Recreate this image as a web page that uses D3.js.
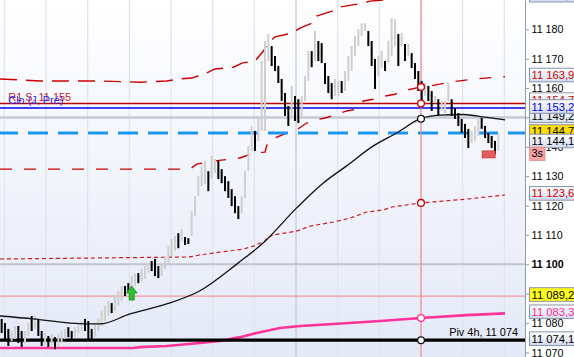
<!DOCTYPE html>
<html><head><meta charset="utf-8">
<script src="https://cdn.jsdelivr.net/npm/d3@7"></script>
<style>body{margin:0;background:#fff}svg{display:block;font-family:"Liberation Sans",Arial,sans-serif}</style>
</head><body><svg id="c" width="574" height="357"></svg>
<script>
// ---------- DATA ----------
const barOpen = [11081.4,11080.0,11078.0,11073.9,11074.6,11079.0,11077.3,11073.2,11075.6,11082.4,
11078.0,11081.4,11077.3,11072.5,11075.6,11072.5,11075.2,11072.2,11073.2,11074.6,
11078.6,11077.3,11075.2,11076.6,11077.3,11081.4,11080.7,11078.0,11075.2,11077.3,
11079.0,11080.7,11082.4,11086.8,11084.1,11085.8,11087.5,11092.6,11093.6,11091.6,
11092.6,11097.0,11094.3,11095.0,11097.0,11101.1,11101.8,11099.4,11096.0,11098.4,
11100.4,11102.8,11104.5,11110.6,11107.9,11109.3,11108.9,11109.6,11116.4,11123.2,
11126.6,11127.3,11131.7,11129.0,11131.1,11135.2,11132.4,11130.0,11128.3,11125.6,
11123.2,11119.8,11117.4,11122.6,11131.7,11138.6,11145.4,11142.0,11145.4,11145.4,
11169.2,11174.3,11170.9,11167.5,11163.1,11158.3,11153.9,11149.5,11157.3,11156.2,
11149.5,11155.6,11162.4,11172.6,11169.2,11176.0,11175.3,11168.5,11164.1,11161.7,
11157.3,11157.3,11162.4,11159.0,11162.4,11165.8,11170.9,11174.3,11177.7,11179.4,
11179.4,11176.0,11169.9,11164.1,11166.8,11169.2,11168.5,11170.9,11174.3,11178.4,
11174.3,11175.0,11170.9,11171.9,11168.5,11165.8,11162.4,11157.3,11160.7,11159.0,
11154.9,11156.2,11152.2,11151.5,11155.6,11156.2,11153.2,11151.5,11149.5,11147.8,
11146.1,11141.3,11142.0,11143.7,11149.8,11147.1,11144.7,11143.7,11142.0,11138.6];
const barClose = [11076.6,11074.6,11072.2,11077.3,11079.0,11073.2,11071.9,11077.3,11080.0,11077.3,
11082.4,11075.6,11072.2,11076.6,11071.9,11076.3,11071.1,11076.3,11077.3,11078.0,
11075.2,11074.6,11078.6,11080.0,11080.7,11077.3,11074.6,11073.9,11079.7,11081.4,
11084.1,11085.8,11087.5,11083.4,11089.2,11090.9,11092.6,11089.2,11090.9,11096.0,
11097.0,11093.6,11098.4,11099.4,11100.4,11097.7,11096.0,11095.3,11100.4,11102.8,
11106.2,11108.6,11109.6,11105.5,11112.0,11106.6,11106.9,11118.1,11123.2,11130.0,
11133.5,11135.2,11124.9,11136.9,11135.8,11129.0,11127.6,11124.9,11122.6,11119.8,
11117.4,11115.4,11123.2,11131.7,11140.3,11147.1,11138.6,11150.5,11169.2,11176.0,
11178.4,11167.5,11165.8,11161.7,11155.6,11150.5,11147.1,11160.7,11148.8,11148.1,
11157.3,11164.1,11172.6,11167.1,11179.4,11169.2,11168.5,11161.4,11158.3,11156.2,
11163.1,11162.4,11158.3,11165.8,11170.9,11174.3,11177.7,11180.1,11182.1,11182.1,
11174.3,11167.5,11159.7,11170.9,11172.6,11165.8,11176.0,11183.8,11183.5,11167.5,
11178.7,11169.2,11175.0,11166.8,11163.1,11159.0,11155.6,11161.7,11155.6,11152.2,
11157.3,11150.5,11155.6,11155.6,11161.7,11150.5,11149.5,11147.1,11144.7,11143.0,
11139.6,11145.4,11147.1,11149.5,11146.1,11143.0,11141.3,11139.6,11137.5,11144.1];

const maIdx = [0,10,21,30,39,50,60,71.4,79,89,97,104,112,119,126,132,139,145.5,151.5];
const maVal = [11082.4,11081.4,11080.0,11079.7,11083.1,11086.5,11091.0,11100.4,11107.3,11119.2,11127.7,11133.5,11140.3,11144.7,11149.5,11150.8,11151.0,11150.1,11149.2];

const upperIdx = [0,12,30,42,50,54,57.6,59.4,62,64.5,70,72.6,76.5,79,80.4,82.5,87.6,90,93.6,95,99.6,102,107.4,111,120,151.5];
const upperVal = [11163.1,11162.4,11162.4,11162.0,11162.4,11163.1,11163.4,11164.1,11165.1,11166.5,11167.1,11168.5,11169.2,11172.6,11175.3,11177.4,11178.7,11180.4,11182.1,11184.5,11186.2,11187.6,11188.6,11189.6,11190.4,11191.1];

const midIdx = [0,57,59,64.5,72,76,79.5,80.4,82.5,86,88.5,92,94.5,97.5,100.5,104,107.4,109,112,115.5,118.5,122,126.3,129,135.6,142.5,151.5];
const midVal = [11132.4,11132.4,11134.1,11135.2,11136.2,11137.9,11138.2,11142.0,11143.0,11144.7,11145.4,11148.1,11149.1,11149.8,11150.8,11152.2,11152.9,11155.6,11156.2,11157.3,11157.9,11159.3,11160.4,11160.7,11162.1,11163.1,11163.9];

const lowIdx = [0,57,60,73,76,79.5,80,82,89,93,100,105,110,115,117.6,126.3,140,151.5];
const lowVal = [11101.8,11102.5,11103.2,11105.2,11106.2,11107.9,11108.9,11110.0,11111.3,11113.0,11114.4,11115.7,11117.8,11118.5,11119.5,11120.9,11122.2,11123.6];

const pinkIdx = [0,40,42,50,60,66,72,78,84,90,100,114,126.3,140,151.5];
const pinkVal = [11071.5,11071.5,11071.8,11072.2,11073.2,11073.9,11075.2,11076.9,11078.3,11079.0,11079.7,11080.7,11081.7,11082.7,11083.3];

const pivotLevel = 11074.17, r1Level = 11154.7, cloLevel = 11153.2, dashLevel = 11144.7, salmonLevel = 11089.2;
const roundLevels = [11150, 11100];
const axisTicks = [11070,11080,11090,11100,11110,11120,11130,11140,11150,11160,11170,11180];
const timeGrid = [1.3,13.8,26.3,38.8,51.3,63.8,76.3,88.8,101.3,113.8,126.3,138.8,151.3];
const cursorIdx = 126.3;
const buySignal = {idx:39.5, price:11092.6};
const sellSignal = {idx:146.6, price:11138.6};

const labelValues = [11191.1,11163.93,11154.70,11149.20,11153.20,11144.70,11144.19,11123.63,11089.20,11083.33,11074.17];
const labelTexts  = ["11 191,10","11 163,93","11 154,70","11 149,20","11 153,20","11 144,70","11 144,19","11 123,63","11 089,20","11 083,33","11 074,17"];

// ---------- DRAW ----------
const W = 574, H = 357, PW = 525;
const svg = d3.select("#c");
const y = d3.scaleLinear().domain([11100, 11180]).range([264.3, 29.3]);
y.domain([y.invert(H), y.invert(0)]).range([H, 0]);
const x = d3.scaleLinear().domain([0, 150]).range([0, 500]);

const defs = svg.append("defs");
const bg = defs.append("linearGradient").attr("id","bg").attr("x1",0).attr("y1",0).attr("x2",0).attr("y2",1);
bg.append("stop").attr("offset","0%").attr("stop-color","#ffffff");
bg.append("stop").attr("offset","100%").attr("stop-color","#e4e9f8");
const lb = defs.append("linearGradient").attr("id","lb").attr("x1",0).attr("y1",0).attr("x2",0).attr("y2",1);
lb.append("stop").attr("offset","0%").attr("stop-color","#ffffff");
lb.append("stop").attr("offset","100%").attr("stop-color","#d2dcee");
defs.append("clipPath").attr("id","clip").append("rect").attr("width",PW).attr("height",H);

svg.append("rect").attr("width",W).attr("height",H).attr("fill","#fff");
svg.append("rect").attr("width",PW).attr("height",H).attr("fill","url(#bg)");
const plot = svg.append("g").attr("clip-path","url(#clip)");

// vertical grid
plot.selectAll(".vg").data(timeGrid).join("line")
  .attr("x1",d=>x(d)).attr("x2",d=>x(d)).attr("y1",0).attr("y2",H)
  .attr("stroke",(d,i)=> i===7 ? "#c3c8d6" : "#dfe3ee").attr("stroke-width",1.2);

// round levels
plot.selectAll(".rl").data(roundLevels).join("line")
  .attr("x1",0).attr("x2",PW).attr("y1",d=>y(d)).attr("y2",d=>y(d))
  .attr("stroke",(d,i)=> i===0 ? "#c6cad8" : "#c0c4d3").attr("stroke-width",(d,i)=> i===0 ? 2.6 : 2);

// salmon level
plot.append("line").attr("x1",0).attr("x2",PW).attr("y1",y(salmonLevel)).attr("y2",y(salmonLevel))
  .attr("stroke","#f29a9a").attr("stroke-width",1.2);

const mk = (idx, val) => idx.map((d,i)=>[d,val[i]]);
const line = d3.line().x(d=>x(d[0])).y(d=>y(d[1]));
const smooth = d3.line().x(d=>x(d[0])).y(d=>y(d[1])).curve(d3.curveMonotoneX);

// bands
plot.append("path").attr("d",line(mk(upperIdx,upperVal))).attr("fill","none")
  .attr("stroke","#cc0000").attr("stroke-width",1.4).attr("stroke-dasharray","17,9");
plot.append("path").attr("d",line(mk(midIdx,midVal))).attr("fill","none")
  .attr("stroke","#cc0000").attr("stroke-width",1.4).attr("stroke-dasharray","12,12");
plot.append("path").attr("d",line(mk(lowIdx,lowVal))).attr("fill","none")
  .attr("stroke","#d41a1a").attr("stroke-width",1.2).attr("stroke-dasharray","4,3");

// dashed blue level
plot.append("line").attr("x1",0).attr("x2",PW).attr("y1",y(dashLevel)).attr("y2",y(dashLevel))
  .attr("stroke","#1a98ee").attr("stroke-width",3).attr("stroke-dasharray","20,10").attr("stroke-dashoffset",2);

// R1 & Clo
plot.append("line").attr("x1",0).attr("x2",PW).attr("y1",y(r1Level)).attr("y2",y(r1Level))
  .attr("stroke","#bb0000").attr("stroke-width",1.5);
plot.append("line").attr("x1",0).attr("x2",PW).attr("y1",y(cloLevel)).attr("y2",y(cloLevel))
  .attr("stroke","#0000ee").attr("stroke-width",1.5);

// pink line
plot.append("path").attr("d",line(mk(pinkIdx,pinkVal))).attr("fill","none")
  .attr("stroke","#ff3399").attr("stroke-width",2.6);

// pivot
plot.append("line").attr("x1",0).attr("x2",PW).attr("y1",y(pivotLevel)).attr("y2",y(pivotLevel))
  .attr("stroke","#000").attr("stroke-width",3.2);

// cursor line
plot.append("line").attr("x1",x(cursorIdx)).attr("x2",x(cursorIdx)).attr("y1",0).attr("y2",H)
  .attr("stroke","#f28a8a").attr("stroke-width",1.2);

// bars
const bars = barOpen.map((o,i)=>({i, o, c:barClose[i]}));
plot.selectAll(".bar").data(bars).join("rect")
  .attr("x",d=>x(d.i+0.5)-1).attr("width",2)
  .attr("y",d=>y(Math.max(d.o,d.c)))
  .attr("height",d=>Math.max(1.5, y(Math.min(d.o,d.c))-y(Math.max(d.o,d.c))))
  .attr("fill",d=> d.c>=d.o ? "#cfcfcf" : "#000");

// MA
plot.append("path").attr("d",smooth(mk(maIdx,maVal))).attr("fill","none")
  .attr("stroke","#111").attr("stroke-width",1.3);

// signals
{
  const cx = x(buySignal.idx), t = y(buySignal.price);
  plot.append("path").attr("d",`M${cx},${t} L${cx+5.5},${t+7} L${cx+2.5},${t+7} L${cx+2.5},${t+14} L${cx-2.5},${t+14} L${cx-2.5},${t+7} L${cx-5.5},${t+7} Z`)
    .attr("fill","#2dc02d").attr("stroke","#178a17").attr("stroke-width",0.8);
  const sx = x(sellSignal.idx), st = y(sellSignal.price);
  plot.append("rect").attr("x",sx-6.5).attr("y",st).attr("width",13).attr("height",7)
    .attr("fill","#e65c5c").attr("stroke","#c23a3a").attr("stroke-width",0.8);
}

// texts
plot.append("text").attr("x",8.3).attr("y",y(r1Level)-3).attr("fill","#cc2222")
  .attr("font-size",10.9).text("R1 S, 11 155");
plot.append("text").attr("x",8.3).attr("y",y(cloLevel)-3.6).attr("fill","#2a2af0")
  .attr("font-size",10.9).text("Clo (J, Pré)");
plot.append("text").attr("x",518).attr("y",y(pivotLevel)-3.8).attr("text-anchor","end")
  .attr("fill","#000").attr("font-size",10.9).text("Piv 4h, 11 074");

// cursor circles
function interp(idx, val, t){
  for(let k=0;k<idx.length-1;k++){ if(t>=idx[k] && t<=idx[k+1]){ const f=(t-idx[k])/(idx[k+1]-idx[k]); return val[k]+f*(val[k+1]-val[k]); } }
  return val[val.length-1];
}
const circ = [
  [interp(midIdx,midVal,cursorIdx),"#cc0000"],
  [r1Level,"#cc0000"],
  [interp(maIdx,maVal,cursorIdx),"#111"],
  [interp(lowIdx,lowVal,cursorIdx),"#cc0000"],
  [interp(pinkIdx,pinkVal,cursorIdx),"#ff3399"],
  [pivotLevel,"#111"]
];
plot.selectAll(".cc").data(circ).join("circle")
  .attr("cx",x(cursorIdx)).attr("cy",d=>y(d[0])).attr("r",3.4)
  .attr("fill","#fff").attr("stroke",d=>d[1]).attr("stroke-width",1.3);

// axis
const axis = d3.axisRight(y).tickValues(axisTicks).tickSize(4).tickSizeOuter(0).tickPadding(2.5)
  .tickFormat(d=>d3.format(",")(d).replace(",", " "));
const ag = svg.append("g").attr("transform",`translate(${PW},0)`).call(axis);
ag.select(".domain").attr("stroke","#8d9db2");
ag.selectAll(".tick line").attr("stroke","#8d9db2");
ag.selectAll(".tick text").attr("font-size",10.7).attr("fill","#000")
  .attr("font-family",'"Liberation Sans",Arial,sans-serif')
  .attr("font-weight",d=> d===11100 ? "bold" : "normal").attr("dy","0.34em");

// value labels
const labelStyle = {
  "11 191,10":["#000","url(#lb)"],
  "11 163,93":["#d00000","url(#lb)"],
  "11 154,70":["#d00000","url(#lb)"],
  "11 153,20":["#0000ee","url(#lb)"],
  "11 149,20":["#000","url(#lb)"],
  "11 144,70":["#000","#ffdc00"],
  "11 144,19":["#000","url(#lb)"],
  "11 123,63":["#d00000","url(#lb)"],
  "11 089,20":["#000","#ffff1a"],
  "11 083,33":["#ff2d96","url(#lb)"],
  "11 074,17":["#000","url(#lb)"]
};
const labelNudge = {"11 154,70":-2.5,"11 149,20":-2.5,"11 144,19":8};
const lg = svg.append("g");
labelValues.forEach((v,i)=>{
  const t = labelTexts[i];
  const cy = y(v) - 1.5 + (labelNudge[t]||0);
  const g = lg.append("g");
  g.append("rect").attr("x",529.5).attr("y",cy-6.8).attr("width",60).attr("height",13.6)
    .attr("fill",labelStyle[t][1]).attr("stroke","#8a94a8").attr("stroke-width",1);
  g.append("text").attr("x",531.5).attr("y",cy+4).attr("font-size",11.2)
    .attr("fill",labelStyle[t][0]).text(t);
  if(t==="11 144,19"){
    const g2 = lg.append("g");
    g2.append("rect").attr("x",529.5).attr("y",cy+6).attr("width",15.5).attr("height",13.5)
      .attr("fill","#f5a3a3").attr("stroke","#e48888").attr("stroke-width",0.8);
    g2.append("text").attr("x",531.5).attr("y",cy+16.5).attr("font-size",10.9).attr("fill","#000").text("3s");
  }
});
</script></body></html>
